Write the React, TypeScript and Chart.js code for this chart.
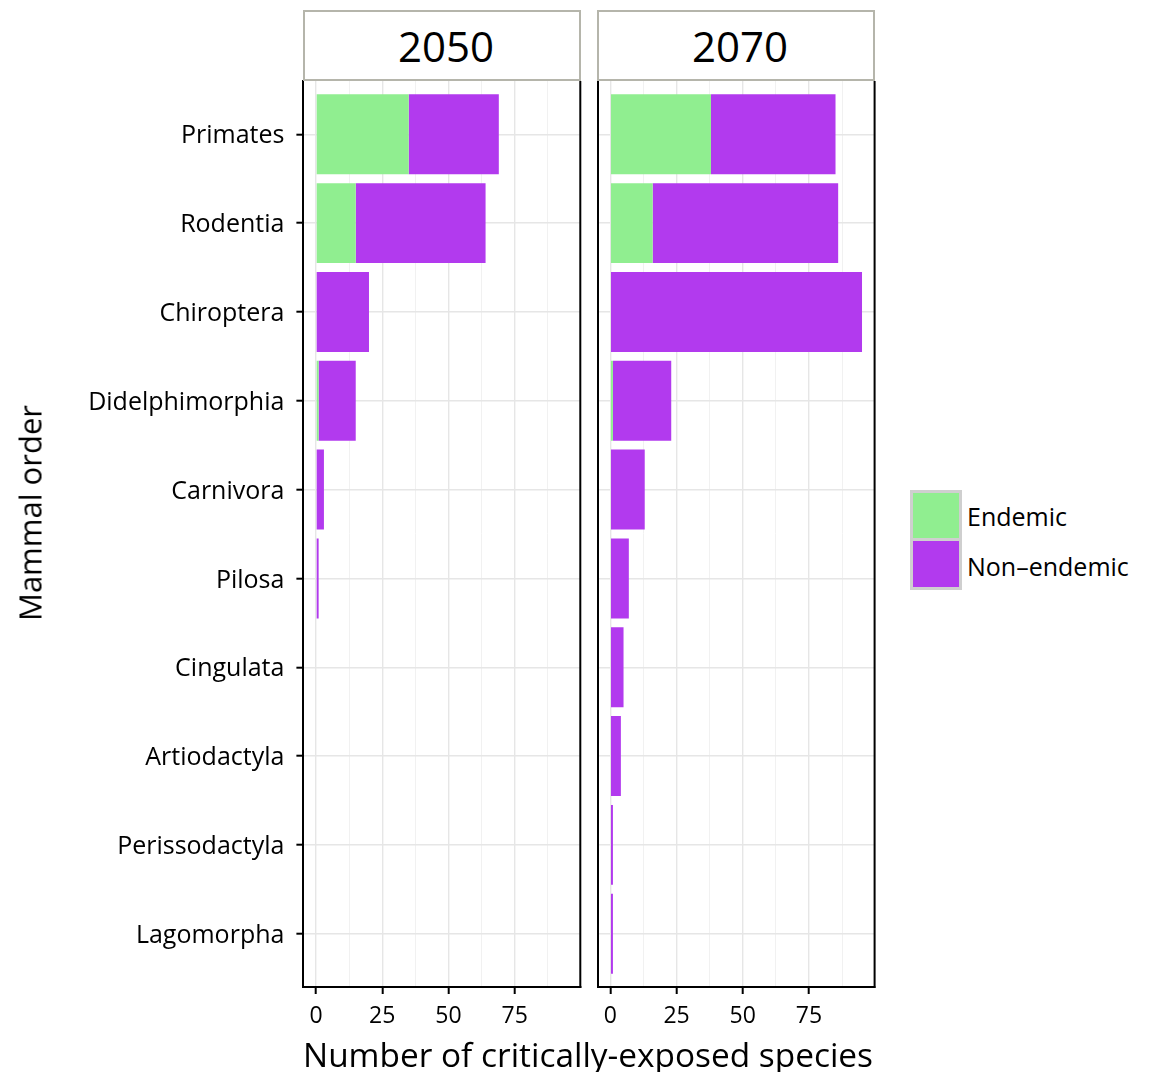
import { useEffect, useRef } from 'react';
import { Chart, registerables } from 'chart.js';
import type { Plugin } from 'chart.js';

Chart.register(...registerables);

const ORDERS = [
    'Primates',
    'Rodentia',
    'Chiroptera',
    'Didelphimorphia',
    'Carnivora',
    'Pilosa',
    'Cingulata',
    'Artiodactyla',
    'Perissodactyla',
    'Lagomorpha',
];
const ENDEMIC_2050 = [35, 15, 0, 1, 0, 0, 0, 0, 0, 0];
const NON_ENDEMIC_2050 = [34, 49, 20, 14, 3, 1, 0, 0, 0, 0];
const ENDEMIC_2070 = [38, 16, 0, 1, 0, 0, 0, 0, 0, 0];
const NON_ENDEMIC_2070 = [47, 70, 95, 22, 13, 7, 5, 4, 1, 1];
const MAJOR_TICKS = [0, 25, 50, 75];
const MINOR_TICKS = [12.5, 37.5, 62.5, 87.5];

const GREEN = '#90ee90';
const PURPLE = '#b23aee';
const FONT = "'Open Sans', sans-serif";

const panelBorder: Plugin = {
    id: 'panelBorder',
    afterDraw(chart) {
        const { ctx, chartArea } = chart;
        ctx.save();
        ctx.strokeStyle = '#000';
        ctx.lineWidth = 2;
        ctx.beginPath();
        ctx.moveTo(chartArea.right, chartArea.top);
        ctx.lineTo(chartArea.right, chartArea.bottom + 1);
        ctx.stroke();
        ctx.restore();
    },
};

interface PanelProps {
    endemic: number[];
    nonEndemic: number[];
    showLabels: boolean;
    axisWidth: number;
    padRight: number;
}

function Panel({ endemic, nonEndemic, showLabels, axisWidth, padRight }: PanelProps) {
    const canvasRef = useRef<HTMLCanvasElement>(null);

    useEffect(() => {
        if (!canvasRef.current) return;
        const allTicks = [...MAJOR_TICKS, ...MINOR_TICKS].sort((a, b) => a - b);
        const isMajor = (v: number) => MAJOR_TICKS.includes(v);

        const chart = new Chart(canvasRef.current, {
            type: 'bar',
            data: {
                datasets: [
                    {
                        label: 'Endemic',
                        data: endemic.map((v, i) => ({ x: v, y: i })),
                        backgroundColor: GREEN,
                        borderWidth: 0,
                        inflateAmount: 0,
                    },
                    {
                        label: 'Non\u2013endemic',
                        data: nonEndemic.map((v, i) => ({ x: v, y: i })),
                        backgroundColor: PURPLE,
                        borderWidth: 0,
                        inflateAmount: 0,
                    },
                ],
            },
            options: {
                indexAxis: 'y',
                responsive: true,
                maintainAspectRatio: false,
                animation: false,
                layout: { padding: { top: 41, right: padRight, bottom: 0, left: 0 } },
                datasets: { bar: { categoryPercentage: 0.9, barPercentage: 1 } },
                plugins: {
                    legend: { display: false },
                    tooltip: { enabled: false },
                },
                scales: {
                    x: {
                        type: 'linear',
                        min: -4.75,
                        max: 99.75,
                        stacked: true,
                        afterBuildTicks: (s) => {
                            s.ticks = allTicks.map((value) => ({ value }));
                        },
                        afterFit: (s) => {
                            s.height = 50;
                        },
                        ticks: {
                            autoSkip: false,
                            maxRotation: 0,
                            padding: 9,
                            color: '#000',
                            font: { family: FONT, size: 23 },
                            callback: (v) => (isMajor(Number(v)) ? String(v) : ''),
                        },
                        grid: {
                            color: (c) => (isMajor(c.tick.value) ? '#e6e6e6' : '#f1f1f1'),
                            lineWidth: (c) => (isMajor(c.tick.value) ? 1.4 : 1),
                            tickLength: 7,
                            tickWidth: 2,
                            tickColor: (c) => (isMajor(c.tick.value) ? '#000' : 'rgba(0,0,0,0)'),
                        },
                        border: { color: '#000', width: 2 },
                    },
                    y: {
                        type: 'linear',
                        min: -0.6,
                        max: 9.6,
                        reverse: true,
                        stacked: true,
                        offset: false,
                        afterBuildTicks: (s) => {
                            s.ticks = ORDERS.map((_, i) => ({ value: i }));
                        },
                        afterFit: (s) => {
                            s.width = axisWidth;
                        },
                        ticks: {
                            display: showLabels,
                            autoSkip: false,
                            padding: 12,
                            labelOffset: 2,
                            color: '#000',
                            font: { family: FONT, size: 25 },
                            callback: (v) => ORDERS[Number(v)] ?? '',
                        },
                        grid: {
                            offset: false,
                            color: '#e6e6e6',
                            lineWidth: 1.4,
                            drawTicks: showLabels,
                            tickLength: 7,
                            tickWidth: 2,
                            tickColor: '#000',
                        },
                        border: { color: '#000', width: 2 },
                    },
                },
            },
            plugins: [panelBorder],
        });

        return () => chart.destroy();
    }, [endemic, nonEndemic, showLabels, axisWidth, padRight]);

    return <canvas ref={canvasRef} />;
}

const stripStyle = (left: number, width: number): React.CSSProperties => ({
    position: 'absolute',
    left,
    top: 10,
    width,
    height: 71,
    boxSizing: 'border-box',
    border: '2px solid #b5b5ab',
    background: '#fff',
    display: 'flex',
    alignItems: 'center',
    justifyContent: 'center',
    paddingLeft: 8,
    fontFamily: FONT,
    fontSize: 42,
    color: '#000',
    zIndex: 2,
});

export default function App() {
    return (
        <div
            style={{
                position: 'fixed',
                left: 0,
                top: 0,
                width: 1156,
                height: 1072,
                background: '#fff',
                fontFamily: FONT,
                overflow: 'hidden',
            }}
        >
            <div style={{ position: 'absolute', left: 0, top: 40, width: 590, height: 997 }}>
                <Panel
                    endemic={ENDEMIC_2050}
                    nonEndemic={NON_ENDEMIC_2050}
                    showLabels={true}
                    axisWidth={303.4}
                    padRight={9.7}
                />
            </div>
            <div style={{ position: 'absolute', left: 590, top: 40, width: 295, height: 997 }}>
                <Panel
                    endemic={ENDEMIC_2070}
                    nonEndemic={NON_ENDEMIC_2070}
                    showLabels={false}
                    axisWidth={7.7}
                    padRight={10.4}
                />
            </div>

            <div style={stripStyle(303, 278)}>2050</div>
            <div style={stripStyle(597, 278)}>2070</div>

            <div
                style={{
                    position: 'absolute',
                    left: 30,
                    top: 513,
                    transform: 'translate(-50%, -50%) rotate(-90deg)',
                    fontSize: 31,
                    whiteSpace: 'nowrap',
                    lineHeight: 1,
                    color: '#000',
                }}
            >
                Mammal order
            </div>
            <div
                style={{
                    position: 'absolute',
                    left: 588,
                    top: 1055,
                    transform: 'translate(-50%, -50%)',
                    fontSize: 33.4,
                    whiteSpace: 'nowrap',
                    lineHeight: 1,
                    color: '#000',
                }}
            >
                Number of critically-exposed species
            </div>

            <div
                style={{
                    position: 'absolute',
                    left: 910,
                    top: 490,
                    width: 52,
                    height: 100,
                    background: '#cfcfcf',
                }}
            >
                <div style={{ position: 'absolute', left: 3, top: 3, width: 46, height: 45, background: GREEN }} />
                <div style={{ position: 'absolute', left: 3, top: 51, width: 46, height: 46, background: PURPLE }} />
            </div>
            <div style={{ position: 'absolute', left: 967, top: 516, transform: 'translateY(-50%)', fontSize: 25, lineHeight: 1, whiteSpace: 'nowrap' }}>
                Endemic
            </div>
            <div style={{ position: 'absolute', left: 967, top: 566, transform: 'translateY(-50%)', fontSize: 25, lineHeight: 1, whiteSpace: 'nowrap' }}>
                Non{'\u2013'}endemic
            </div>
        </div>
    );
}
